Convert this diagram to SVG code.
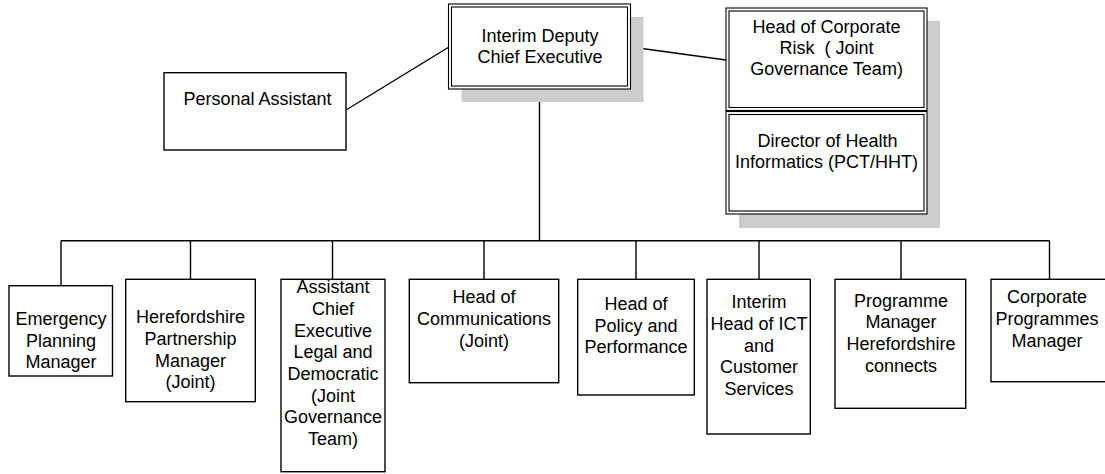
<svg xmlns="http://www.w3.org/2000/svg" width="1105" height="474" viewBox="0 0 1105 474">
<style>
  text { font-family: "Liberation Sans", Arial, sans-serif; font-size: 18px; fill: #000; text-anchor: middle; }
  .box { fill: #fff; stroke: #000; stroke-width: 1.4; }
  .dbl-out { fill: #fff; stroke: #000; stroke-width: 1.1; }
  .dbl-in { fill: none; stroke: #000; stroke-width: 1.1; }
  .shadow { fill: #cccccc; stroke: none; }
  .conn { stroke: #000; stroke-width: 1.4; fill: none; }
</style>
<rect width="1105" height="474" fill="#fff"/>
<g id="connectors">
  <line class="conn" x1="346" y1="110" x2="449" y2="47"/>
  <line class="conn" x1="631" y1="47" x2="726" y2="60"/>
  <line class="conn" x1="539.5" y1="89" x2="539.5" y2="240.7"/>
  <line class="conn" x1="61" y1="240.7" x2="1049.5" y2="240.7"/>
  <line class="conn" x1="61" y1="240.7" x2="61" y2="285.7"/>
  <line class="conn" x1="190.5" y1="240.7" x2="190.5" y2="279.3"/>
  <line class="conn" x1="332.5" y1="240.7" x2="332.5" y2="279.3"/>
  <line class="conn" x1="484" y1="240.7" x2="484" y2="279.3"/>
  <line class="conn" x1="636" y1="240.7" x2="636" y2="279.3"/>
  <line class="conn" x1="759" y1="240.7" x2="759" y2="279.3"/>
  <line class="conn" x1="901" y1="240.7" x2="901" y2="279.3"/>
  <line class="conn" x1="1049.5" y1="240.7" x2="1049.5" y2="279.3"/>
</g>
<g id="interim-deputy">
  <rect class="shadow" x="461.5" y="17" width="182" height="85"/>
  <rect class="dbl-out" x="448.5" y="4" width="182" height="85"/>
  <rect class="dbl-in" x="451.5" y="7" width="176" height="79"/>
  <text x="540" y="42">Interim Deputy</text>
  <text x="540" y="63">Chief Executive</text>
</g>
<g id="right-shadow">
  <rect class="shadow" x="739" y="21" width="201" height="207"/>
</g>
<g id="head-corporate-risk">
  <rect class="dbl-out" x="726" y="8" width="201" height="102.5"/>
  <rect class="dbl-in" x="729" y="11" width="195" height="96.5"/>
  <text x="826.5" y="33">Head of Corporate</text>
  <text x="826.5" y="54" style="white-space:pre">Risk  ( Joint</text>
  <text x="826.5" y="75">Governance Team)</text>
</g>
<g id="director-health-informatics">
  <rect class="dbl-out" x="726" y="111.5" width="201" height="102.5"/>
  <rect class="dbl-in" x="729" y="114.5" width="195" height="96.5"/>
  <text x="827.5" y="147">Director of Health</text>
  <text x="826.5" y="168">Informatics (PCT/HHT)</text>
</g>
<g id="personal-assistant">
  <rect class="box" x="164" y="72.7" width="182" height="77.3"/>
  <text x="257.5" y="105">Personal Assistant</text>
</g>
<g id="emergency-planning">
  <rect class="box" x="9" y="285.7" width="103.5" height="90.3"/>
  <text x="61" y="325">Emergency</text>
  <text x="61" y="346.7">Planning</text>
  <text x="61" y="368.3">Manager</text>
</g>
<g id="herefordshire-partnership">
  <rect class="box" x="125.7" y="279.3" width="129.6" height="122.4"/>
  <text x="190.5" y="323.3">Herefordshire</text>
  <text x="190.5" y="345">Partnership</text>
  <text x="190.5" y="366.7">Manager</text>
  <text x="190.5" y="388.3">(Joint)</text>
</g>
<g id="assistant-chief-executive">
  <rect class="box" x="281" y="279.3" width="104" height="192.4"/>
  <text x="333" y="293.3">Assistant</text>
  <text x="333" y="315">Chief</text>
  <text x="333" y="336.7">Executive</text>
  <text x="333" y="358.3">Legal and</text>
  <text x="333" y="380">Democratic</text>
  <text x="333" y="401.7">(Joint</text>
  <text x="333" y="423.3">Governance</text>
  <text x="333" y="445">Team)</text>
</g>
<g id="head-communications">
  <rect class="box" x="409.3" y="279.3" width="149.4" height="103.4"/>
  <text x="484" y="303.3">Head of</text>
  <text x="484" y="325">Communications</text>
  <text x="484" y="346.7">(Joint)</text>
</g>
<g id="head-policy">
  <rect class="box" x="577.7" y="279.3" width="116.6" height="115.7"/>
  <text x="636" y="310">Head of</text>
  <text x="636" y="331.7">Policy and</text>
  <text x="636" y="353.3">Performance</text>
</g>
<g id="interim-head-ict">
  <rect class="box" x="707" y="279.3" width="103.3" height="154.7"/>
  <text x="759" y="308.3">Interim</text>
  <text x="759" y="330">Head of ICT</text>
  <text x="759" y="351.7">and</text>
  <text x="759" y="373.3">Customer</text>
  <text x="759" y="395">Services</text>
</g>
<g id="programme-manager">
  <rect class="box" x="835" y="279.3" width="130.7" height="129"/>
  <text x="901" y="306.7">Programme</text>
  <text x="901" y="328.3">Manager</text>
  <text x="901" y="350">Herefordshire</text>
  <text x="901" y="371.7">connects</text>
</g>
<g id="corporate-programmes">
  <rect class="box" x="991" y="279.3" width="125" height="102.4"/>
  <text x="1047" y="303.3">Corporate</text>
  <text x="1047" y="325">Programmes</text>
  <text x="1047" y="346.7">Manager</text>
</g>
</svg>
